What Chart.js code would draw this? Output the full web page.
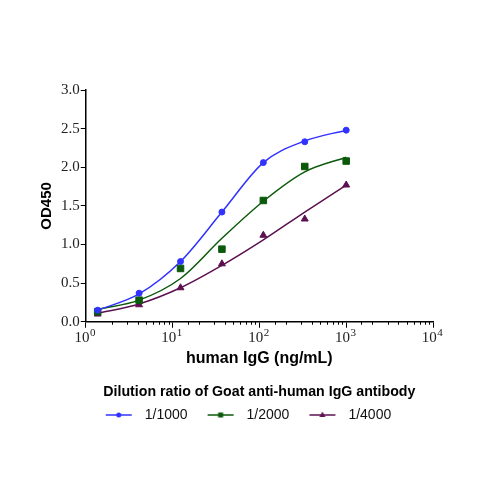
<!DOCTYPE html>
<html>
<head>
<meta charset="utf-8">
<script src="https://cdn.jsdelivr.net/npm/chart.js@4"></script>
<style>
  html, body { margin: 0; padding: 0; background: #fff; }
</style>
</head>
<body>
<canvas id="canvas" width="500" height="500"></canvas>
<script>
// human IgG concentration (ng/mL), 3-fold dilutions
let doses = [1.372, 4.115, 12.35, 37.04, 111.1, 333.3, 1000];

// measured OD450 for each antibody dilution
let od1000 = [0.15, 0.37, 0.78, 1.42, 2.06, 2.33, 2.48];
let od2000 = [0.13, 0.28, 0.69, 0.94, 1.57, 2.01, 2.08];
let od4000 = [0.10, 0.22, 0.44, 0.75, 1.12, 1.33, 1.77];

// fitted curves at the same doses
let fit1000 = [0.15, 0.36, 0.78, 1.42, 2.06, 2.34, 2.48];
let fit2000 = [0.16, 0.28, 0.56, 1.08, 1.56, 1.94, 2.13];
let fit4000 = [0.11, 0.23, 0.44, 0.73, 1.06, 1.42, 1.77];

let names = ['1/1000', '1/2000', '1/4000'];
let colors = ['#3232ff', '#0b5a0b', '#5c1050'];
let shapes = ['circle', 'rect', 'triangle'];
let radii = [3, 4.6, 4];

// x tick labels: base and exponent
let xExponents = { 1: '0', 10: '1', 100: '2', 1000: '3', 10000: '4' };

function pts(ys) {
  return doses.map((d, i) => ({ x: d, y: ys[i] }));
}

function isMajor(v) {
  return xExponents[v] !== undefined;
}

// little picture of line + marker for the legend
function legendIcon(color, shape) {
  let c = document.createElement('canvas');
  c.width = 33; c.height = 10;
  let g = c.getContext('2d');
  g.strokeStyle = color; g.fillStyle = color; g.lineWidth = 1.5;
  g.beginPath(); g.moveTo(1, 5); g.lineTo(27, 5); g.stroke();
  g.beginPath();
  if (shape === 'circle') g.arc(14, 5, 2.5, 0, Math.PI * 2);
  else if (shape === 'rect') g.rect(11.5, 2.5, 5, 5);
  else { g.moveTo(14, 1.5); g.lineTo(17, 7); g.lineTo(11, 7); g.closePath(); }
  g.fill();
  return c;
}

let observed = [od1000, od2000, od4000];
let fitted = [fit1000, fit2000, fit4000];
let datasets = [];

// the fitted curves
fitted.forEach((ys, i) => {
  datasets.push({
    data: pts(ys),
    borderColor: colors[i],
    borderWidth: 1.5,
    pointRadius: 0,
    showLine: true,
    cubicInterpolationMode: 'monotone',
    order: 2
  });
});

// the measured points
observed.forEach((ys, i) => {
  datasets.push({
    label: names[i],
    data: pts(ys),
    showLine: false,
    pointStyle: shapes[i],
    pointRadius: radii[i],
    backgroundColor: colors[i],
    borderColor: colors[i],
    borderWidth: 1,
    order: 1
  });
});

let serif = "'Liberation Serif', 'Times New Roman', serif";
let sans = "'Liberation Sans', Arial, sans-serif";

// minor ticks on the log axis + superscript exponents
let logAxisExtras = {
  id: 'logAxisExtras',
  afterDraw(chart) {
    let sx = chart.scales.x, ctx = chart.ctx;
    ctx.save();
    ctx.strokeStyle = '#000';
    ctx.lineWidth = 1;
    sx.ticks.forEach(t => {
      if (isMajor(t.value)) return;
      let px = Math.round(sx.getPixelForValue(t.value)) + 0.5;
      ctx.beginPath();
      ctx.moveTo(px, sx.top);
      ctx.lineTo(px, sx.top + 3);
      ctx.stroke();
    });
    ctx.fillStyle = '#222';
    ctx.textBaseline = 'top';
    ctx.textAlign = 'left';
    ctx.font = '15px ' + serif;
    let baseW = ctx.measureText('10').width;
    let fullW = ctx.measureText('10\u2002').width;
    ctx.font = '11px ' + serif;
    Object.keys(xExponents).forEach(v => {
      let px = sx.getPixelForValue(Number(v));
      ctx.fillText(xExponents[v], px - fullW / 2 + baseW + 0.5, sx.top + 6);
    });
    ctx.restore();
  }
};

let options = {
  type: 'scatter',
  data: { datasets: datasets },
  options: {
    responsive: false,
    animation: false,
    layout: { padding: { left: 34, right: 67, top: 90, bottom: 68 } },
    plugins: {
      tooltip: { enabled: false },
      title: {
        display: true,
        position: 'bottom',
        weight: 500,
        fullSize: false,
        text: 'Dilution ratio of Goat anti-human IgG antibody',
        color: '#000',
        font: { family: sans, size: 14.2, weight: 'bold' },
        padding: { top: 12, bottom: -12 }
      },
      legend: {
        position: 'bottom',
        fullSize: false,
        align: 'start',
        labels: {
          usePointStyle: true,
          pointStyleWidth: 33,
          padding: 19,
          color: '#111',
          font: { family: sans, size: 14 },
          generateLabels: () => names.map((n, i) => ({
            text: n,
            pointStyle: legendIcon(colors[i], shapes[i]),
            fillStyle: colors[i],
            strokeStyle: colors[i],
            lineWidth: 0,
            hidden: false,
            fontColor: '#111'
          }))
        }
      }
    },
    scales: {
      x: {
        type: 'logarithmic',
        min: 1,
        max: 10000,
        border: { color: '#000', width: 1.5 },
        grid: {
          drawOnChartArea: false,
          tickLength: 6,
          tickColor: c => (c.tick && isMajor(c.tick.value)) ? '#000' : 'rgba(0,0,0,0)'
        },
        ticks: {
          autoSkip: false,
          maxRotation: 0,
          color: '#222',
          font: { family: serif, size: 15 },
          padding: 1,
          // room is left after "10" for the exponent drawn by the plugin
          callback: v => isMajor(v) ? '10\u2002' : ''
        },
        title: {
          display: true,
          text: 'human IgG (ng/mL)',
          color: '#000',
          font: { family: sans, size: 16, weight: 'bold' },
          padding: { top: 1 }
        }
      },
      y: {
        min: 0,
        max: 3,
        border: { color: '#000', width: 1.5 },
        grid: { drawOnChartArea: false, tickLength: 5, tickColor: '#000' },
        ticks: {
          stepSize: 0.5,
          color: '#222',
          font: { family: serif, size: 15 },
          padding: 1,
          callback: v => v.toFixed(1)
        },
        title: {
          display: true,
          text: 'OD450',
          color: '#000',
          font: { family: sans, size: 15, weight: 'bold' },
          padding: { bottom: 4 }
        }
      }
    }
  },
  plugins: [logAxisExtras]
};

let chart = new Chart(document.getElementById('canvas'), options);
</script>
</body>
</html>
